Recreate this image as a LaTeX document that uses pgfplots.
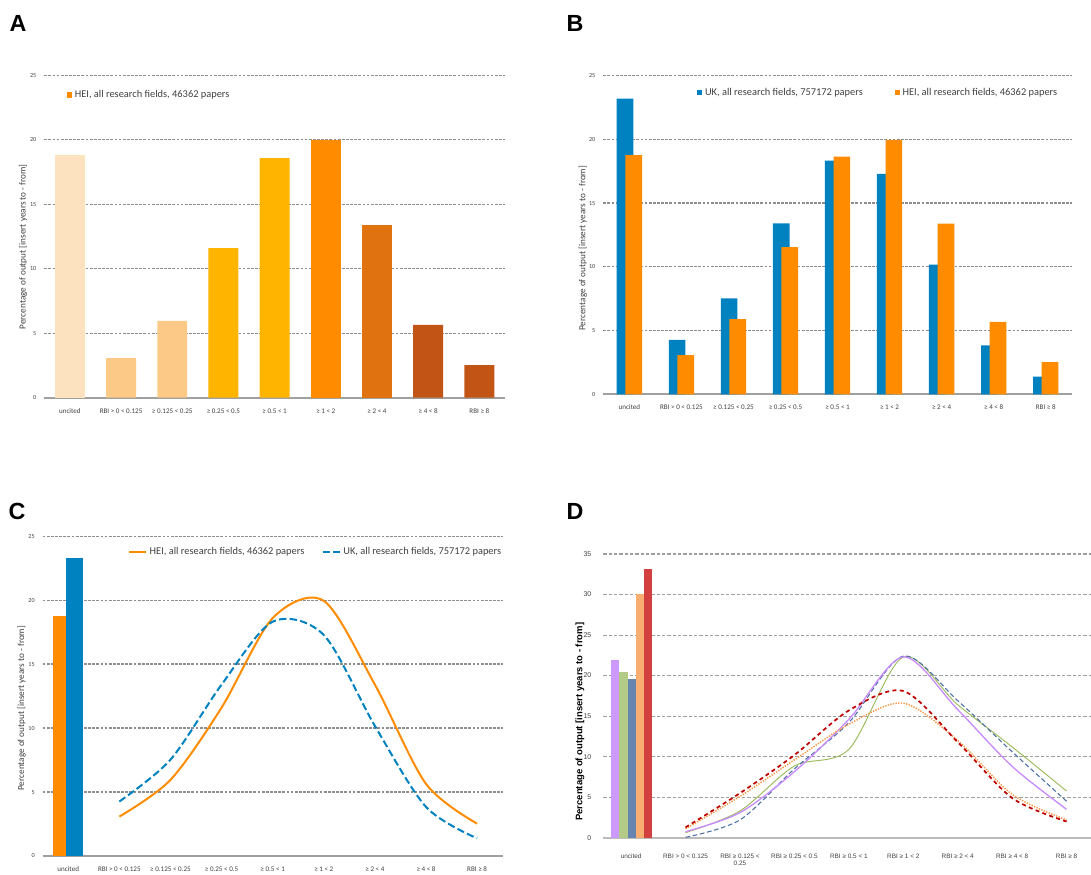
\documentclass[border=0pt]{standalone}
\usepackage{fontspec}
\setmainfont{Carlito}
\newfontfamily\arial{Liberation Sans}
\usepackage{pgfplots}
\pgfplotsset{compat=1.18}

\definecolor{c0}{HTML}{FDE2C0}
\definecolor{c1}{HTML}{FDC986}
\definecolor{c2}{HTML}{FFB400}
\definecolor{c3}{HTML}{FF8C00}
\definecolor{c4}{HTML}{E0730F}
\definecolor{c5}{HTML}{C25516}
\definecolor{ukblue}{HTML}{0081C0}
\definecolor{heior}{HTML}{FF8C00}
\definecolor{gridc}{HTML}{8E8E8E}
\definecolor{axc}{HTML}{A0A0A0}
\definecolor{txt}{HTML}{404040}
\definecolor{dpur}{HTML}{CC99FF}
\definecolor{dgrn}{HTML}{B3CB86}
\definecolor{dblu}{HTML}{6685B0}
\definecolor{dora}{HTML}{F8AE70}
\definecolor{dred}{HTML}{D24040}
\definecolor{lpur}{HTML}{C88CFF}
\definecolor{lgrn}{HTML}{9BBB59}
\definecolor{lblu}{HTML}{4A6FA5}
\definecolor{lred}{HTML}{C00000}
\definecolor{lora}{HTML}{F79646}

\pgfplotsset{
  panel/.style={
    scale only axis,
    xmin=-0.5, xmax=8.5, ymin=0,
    axis x line*=bottom, axis y line*=left,
    x axis line style={axc, line width=1.4pt, -},
    y axis line style={draw=none},
    major tick length=0pt,
    xtick={0,...,8},
    ymajorgrids,
    grid style={gridc, line width=1pt, dash pattern=on 2.1pt off 1pt},
    /pgf/number format/assume math mode=true,
    tick label style={text=txt},
    yticklabel style={font=\fontsize{4.6}{5}\selectfont, xshift=-2.5pt},
    xticklabel style={font=\fontsize{5.3}{6}\selectfont, yshift=-4.5pt},
    ylabel={Percentage of output [insert years to - from]},
    legend style={draw=none, fill=none, inner sep=0pt, anchor=west,
      font=\fontsize{7.8}{9}\selectfont, text=txt, legend cell align=left},
    clip=false,
  },
  abclabels/.style={
    xticklabels={uncited, RBI > 0 < 0.125, ≥ 0.125 < 0.25, ≥ 0.25 < 0.5, ≥ 0.5 < 1, ≥ 1 < 2, ≥ 2 < 4, ≥ 4 < 8, RBI ≥ 8},
  },
  sqlegend/.style={legend image code/.code={\fill[##1] (0pt,-1.9pt) rectangle (3.8pt,1.9pt);}},
  lnlegend/.style={legend image code/.code={\draw[##1] (0pt,0pt) -- (12.75pt,0pt);}},
}

\begin{document}
\begin{tikzpicture}
\useasboundingbox (0,0) rectangle (818.25pt,655.5pt);

\node[font=\arial\bfseries\fontsize{17.5}{20}\selectfont] at (13.5pt,638.25pt) {A};
\node[font=\arial\bfseries\fontsize{17.5}{20}\selectfont] at (431.25pt,638.25pt) {B};
\node[font=\arial\bfseries\fontsize{17.5}{20}\selectfont] at (12.75pt,272.25pt) {C};
\node[font=\arial\bfseries\fontsize{17.5}{20}\selectfont] at (431.25pt,272.25pt) {D};

% ---------------- Panel A ----------------
\begin{axis}[panel, abclabels,
  at={(33.2pt,357.2pt)}, anchor=south west,
  width=345.5pt, height=241.8pt,
  ymax=25, ytick={0,5,...,25},
  ylabel style={at={(axis description cs:-0.046,0.468)}, anchor=center,
    font=\fontsize{6.9}{8}\selectfont, text=txt},
  legend style={at={(axis description cs:0.049,0.939)}},
]
\addlegendimage{sqlegend, fill=heior, draw=none}
\addlegendentry{HEI, all research fields, 46362 papers}
\addplot[ybar, bar width=0.585, bar shift=0, fill=c0, draw=none, forget plot] coordinates {(0,18.8)};
\addplot[ybar, bar width=0.585, bar shift=0, fill=c1, draw=none, forget plot] coordinates {(1,3.08) (2,5.95)};
\addplot[ybar, bar width=0.585, bar shift=0, fill=c2, draw=none, forget plot] coordinates {(3,11.6) (4,18.58)};
\addplot[ybar, bar width=0.585, bar shift=0, fill=c3, draw=none, forget plot] coordinates {(5,19.95)};
\addplot[ybar, bar width=0.585, bar shift=0, fill=c4, draw=none, forget plot] coordinates {(6,13.4)};
\addplot[ybar, bar width=0.585, bar shift=0, fill=c5, draw=none, forget plot] coordinates {(7,5.64) (8,2.53)};
\end{axis}

% ---------------- Panel B ----------------
\begin{axis}[panel, abclabels,
  at={(452.5pt,359.8pt)}, anchor=south west,
  width=351.3pt, height=239pt,
  ymax=25, ytick={0,5,...,25},
  ylabel style={at={(axis description cs:-0.044,0.458)}, anchor=center,
    font=\fontsize{6.9}{8}\selectfont, text=txt},
  legend columns=2,
  legend style={at={(axis description cs:0.2,0.946)}},
]
\addlegendimage{sqlegend, fill=ukblue, draw=none}
\addlegendentry{UK, all research fields, 757172 papers\rule{22pt}{0pt}}
\addlegendimage{sqlegend, fill=heior, draw=none}
\addlegendentry{HEI, all research fields, 46362 papers}
\addplot[ybar, bar width=0.32, bar shift=-0.083, fill=ukblue, draw=none, forget plot] coordinates {
(0,23.2) (1,4.26) (2,7.53) (3,13.4) (4,18.32) (5,17.28) (6,10.17) (7,3.84) (8,1.38)};
\addplot[ybar, bar width=0.32, bar shift=0.083, fill=heior, draw=none, forget plot] coordinates {
(0,18.77) (1,3.08) (2,5.9) (3,11.55) (4,18.64) (5,19.95) (6,13.38) (7,5.67) (8,2.53)};
\end{axis}

% ---------------- Panel C ----------------
\begin{axis}[panel, abclabels,
  at={(32pt,13.5pt)}, anchor=south west,
  width=345pt, height=239.8pt,
  ymax=25, ytick={0,5,...,25},
  ylabel style={at={(axis description cs:-0.0457,0.462)}, anchor=center,
    font=\fontsize{6.9}{8}\selectfont, text=txt},
  legend columns=2,
  legend style={at={(axis description cs:0.185,0.951)}},
]
\addplot[ybar, bar width=0.33, bar shift=-0.13, fill=heior, draw=none, forget plot] coordinates {(0,18.8)};
\addplot[ybar, bar width=0.33, bar shift=0.13, fill=ukblue, draw=none, forget plot] coordinates {(0,23.3)};
\addplot[lnlegend, smooth, heior, line width=1.5pt, no markers] coordinates {
(1,3.08) (2,5.95) (3,11.6) (4,18.6) (5,19.95) (6,13.4) (7,5.64) (8,2.53)};
\addlegendentry{HEI, all research fields, 46362 papers\rule{11pt}{0pt}}
\addplot[lnlegend, smooth, ukblue, line width=1.5pt, dash pattern=on 5.5pt off 2.5pt, no markers] coordinates {
(1,4.26) (2,7.53) (3,13.4) (4,18.32) (5,17.28) (6,10.17) (7,3.84) (8,1.38)};
\addlegendentry{UK, all research fields, 757172 papers}
\end{axis}

% ---------------- Panel D ----------------
\begin{axis}[panel,
  at={(452.5pt,27.2pt)}, anchor=south west,
  width=365.8pt, height=212.8pt,
  xmin=-0.51, xmax=8.45,
  ymax=35, ytick={0,5,...,35},
  grid style={gridc!85, line width=0.8pt, dash pattern=on 2.5pt off 1.5pt},
  x axis line style={axc!70, line width=1.4pt, -},
  xticklabels={uncited, RBI > 0 < 0.125, {RBI ≥ 0.125 <\\0.25}, RBI ≥ 0.25 < 0.5, RBI ≥ 0.5 < 1, RBI ≥ 1 < 2, RBI ≥ 2 < 4, RBI ≥ 4 < 8, RBI ≥ 8},
  xticklabel style={font=\arial\fontsize{4.8}{5.3}\selectfont, yshift=-4.2pt, align=center},
  yticklabel style={font=\arial\fontsize{5.2}{6}\selectfont, xshift=-3pt},
  ylabel style={at={(axis description cs:-0.0478,0.409)}, anchor=center,
    font=\arial\bfseries\fontsize{7.1}{8}\selectfont, text=black},
]
\addplot[ybar, bar width=0.152, bar shift=-0.294, fill=dpur, draw=none] coordinates {(0,21.9)};
\addplot[ybar, bar width=0.152, bar shift=-0.142, fill=dgrn, draw=none] coordinates {(0,20.45)};
\addplot[ybar, bar width=0.152, bar shift=0.01, fill=dblu, draw=none] coordinates {(0,19.6)};
\addplot[ybar, bar width=0.152, bar shift=0.162, fill=dora, draw=none] coordinates {(0,30.1)};
\addplot[ybar, bar width=0.152, bar shift=0.314, fill=dred, draw=none] coordinates {(0,33.2)};

\addplot[smooth, lgrn, line width=0.7pt, no markers] coordinates {
(1,0.62) (2,3.3) (3,8.85) (4,10.9) (5,22.3) (6,16.4) (7,11.2) (8,5.76)};
\addplot[smooth, lblu, line width=0.8pt, dash pattern=on 3.5pt off 2pt, no markers] coordinates {
(1,0.05) (2,2.2) (3,8.5) (4,14.2) (5,22.4) (6,16.9) (7,10.6) (8,4.5)};
\addplot[smooth, lpur, line width=1pt, no markers] coordinates {
(1,0.74) (2,3.1) (3,8.15) (4,14.6) (5,22.3) (6,15.8) (7,8.8) (8,3.5)};
\addplot[smooth, lora, line width=1.1pt, dash pattern=on 1pt off 1pt, no markers] coordinates {
(1,1.1) (2,5.1) (3,9.6) (4,14.0) (5,16.6) (6,12.0) (7,5.35) (8,2.2)};
\addplot[smooth, lred, line width=1.3pt, dash pattern=on 3pt off 2.5pt, no markers] coordinates {
(1,1.28) (2,5.5) (3,10.2) (4,15.7) (5,18.1) (6,11.8) (7,4.9) (8,2.0)};
\end{axis}
\end{tikzpicture}
\end{document}
